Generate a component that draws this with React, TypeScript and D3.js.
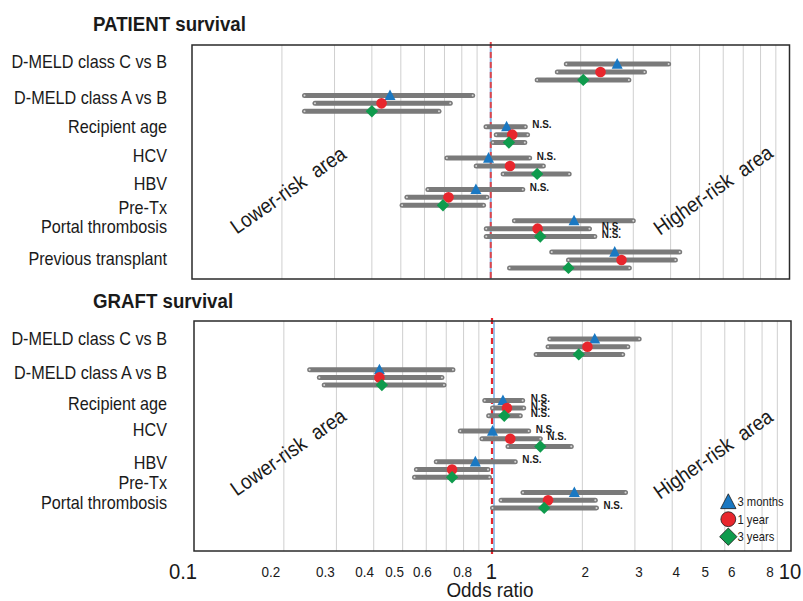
import React from "react";
import * as d3 from "d3";

// ---------- DATA ----------
const patientCategories = [
  "D-MELD class C vs B",
  "D-MELD class A vs B",
  "Recipient age",
  "HCV",
  "HBV",
  "Pre-Tx|Portal thrombosis",
  "Previous transplant",
];
// [odds ratio, lower CI, upper CI]
const patient3m = [
  [2.65, 1.79, 3.94],
  [0.46, 0.238, 0.87],
  [1.13, 0.964, 1.305],
  [0.983, 0.713, 1.35],
  [0.892, 0.616, 1.28],
  [1.9, 1.2, 3.0],
  [2.6, 1.6, 4.29],
];
const patient1y = [
  [2.33, 1.67, 3.27],
  [0.431, 0.258, 0.732],
  [1.18, 1.043, 1.328],
  [1.16, 0.894, 1.5],
  [0.722, 0.524, 0.971],
  [1.435, 0.966, 2.14],
  [2.74, 1.82, 4.15],
];
const patient3y = [
  [2.04, 1.43, 2.9],
  [0.4, 0.238, 0.671],
  [1.15, 1.017, 1.3],
  [1.43, 1.1, 1.83],
  [0.692, 0.505, 0.946],
  [1.465, 0.966, 2.23],
  [1.82, 1.156, 2.91],
];
const patientNS3m = [false, false, true, true, true, false, false];
const patientNS1y = [false, false, false, false, false, true, false];
const patientNS3y = [false, false, false, false, false, true, false];

const graftCategories = [
  "D-MELD class C vs B",
  "D-MELD class A vs B",
  "Recipient age",
  "HCV",
  "HBV",
  "Pre-Tx|Portal thrombosis",
];
const graft3m = [
  [2.2, 1.555, 3.1],
  [0.418, 0.244, 0.737],
  [1.084, 0.942, 1.262],
  [1.0, 0.78, 1.322],
  [0.876, 0.648, 1.192],
  [1.88, 1.265, 2.79],
];
const graft1y = [
  [2.08, 1.535, 2.84],
  [0.418, 0.263, 0.677],
  [1.118, 1.0, 1.272],
  [1.147, 0.922, 1.446],
  [0.732, 0.556, 0.966],
  [1.535, 1.068, 2.21],
];
const graft3y = [
  [1.945, 1.4, 2.73],
  [0.426, 0.273, 0.688],
  [1.095, 0.971, 1.239],
  [1.446, 1.127, 1.836],
  [0.732, 0.548, 0.976],
  [1.49, 1.0, 2.23],
];
const graftNS3m = [false, false, true, true, true, false];
const graftNS1y = [false, false, true, true, false, false];
const graftNS3y = [false, false, true, false, false, true];

const seriesNames = ["3 months", "1 year", "3 years"];
const minorTicks = [0.2, 0.3, 0.4, 0.5, 0.6, 0.7, 0.8, 0.9, 2, 3, 4, 5, 6, 7, 8, 9];
const tickLabelsSmall = ["0.2", "0.3", "0.4", "0.5", "0.6", "0.8", "2", "3", "4", "5", "6", "8"];
const tickLabelsLarge = ["0.1", "1", "10"];

// ---------- STYLE ----------
const FONT = "'Liberation Sans', Arial, Helvetica, sans-serif";
const COLORS = ["#1a78c2", "#e8262d", "#0f9b4d"];
const BAR = "#7a7a7a";
const GRID = "#cfcfcf";
const SX = 0.9; // horizontal condensing of the Helvetica-narrow look
// small nudges of the tick labels, as in the original artwork
const smallLabelNudge: Record<string, number> = {
  "0.2": -13, "0.3": -11, "0.4": -9, "0.5": -8, "0.6": -4, "0.8": -1,
  "2": 3, "3": 4, "4": 4, "5": 4, "6": 7, "8": 8,
};
const patientLabelNudge = [-10.3, -6.3, -7.7, -11, -14.3, -1.7, -2];
const graftLabelNudge = [-8.7, -5.4, -5, -9, -7.5, 1.8];

type Panel = {
  cats: string[];
  series: number[][][];
  ns: boolean[][];
  box: { x0: number; x1: number; y0: number; y1: number };
  yRange: [number, number];
  off: number;
  labelNudge: number[];
  title: string;
  titleY: number;
  lowerY: number;
  higherY: number;
  mode: "top" | "bottom";
};

function Marker({ kind, x, y, legend }: { kind: number; x: number; y: number; legend?: boolean }) {
  const s = legend ? 1.4 : 1;
  const stroke = legend ? "#1a1a1a" : "none";
  if (kind === 0) {
    const w = 11 * s, top = -6 * s, bot = 4.6 * s;
    return (
      <path
        d={`M${x},${y + top}L${x + w / 2},${y + bot}L${x - w / 2},${y + bot}Z`}
        fill={COLORS[0]} stroke={stroke} strokeWidth={0.8}
      />
    );
  }
  if (kind === 1) {
    return <circle cx={x} cy={y} r={5.3 * s} fill={COLORS[1]} stroke={stroke} strokeWidth={0.8} />;
  }
  const h = 6.2 * s;
  return (
    <path
      d={`M${x},${y - h}L${x + h},${y}L${x},${y + h}L${x - h},${y}Z`}
      fill={COLORS[2]} stroke={stroke} strokeWidth={0.8}
    />
  );
}

function PanelView({ p }: { p: Panel }) {
  const x = d3.scaleLog().domain([0.1, 10]).range([p.box.x0, p.box.x1]);
  const y = d3.scalePoint<string>().domain(p.cats).range(p.yRange);
  const x1 = x(1);

  // N.S. label x: aligned within a category when the CI ends are close
  const nsX = (si: number, ci: number) => {
    const own = x(p.series[si][ci][2]);
    const others = p.series
      .map((ser, k) => (p.ns[k][ci] ? x(ser[ci][2]) : null))
      .filter((v) => v !== null) as number[];
    const close = others.filter((v) => Math.abs(v - own) < 8);
    return Math.max(own, ...close) + 7;
  };

  return (
    <g>
      <text
        transform={`translate(93,${p.titleY}) scale(0.89,1)`}
        fontFamily={FONT} fontWeight="bold" fontSize={21} fill="#1a1a1a"
      >
        {p.title}
      </text>
      {/* grid */}
      {minorTicks.map((t) => (
        <line key={t} x1={x(t)} x2={x(t)} y1={p.box.y0} y2={p.box.y1} stroke={GRID} strokeWidth={1} />
      ))}
      {/* reference line */}
      {p.mode === "top" ? (
        <g>
          <line x1={x1} x2={x1} y1={p.box.y0} y2={p.box.y1} stroke="#7fb0e0" strokeWidth={2} />
          <line x1={x1} x2={x1} y1={p.box.y0 - 3} y2={p.box.y1} stroke="#e0454a" strokeWidth={2} strokeDasharray="6 4" />
        </g>
      ) : (
        <g>
          <line x1={x1 + 1.5} x2={x1 + 1.5} y1={p.box.y0} y2={p.box.y1} stroke="#5a9ee0" strokeWidth={1.2} />
          <line x1={x1 - 0.5} x2={x1 - 0.5} y1={p.box.y0 - 3} y2={p.box.y1 + 5} stroke="#e8262d" strokeWidth={2.2} strokeDasharray="6 4" />
        </g>
      )}
      {/* risk-area texts */}
      <text
        transform={`translate(288,${p.lowerY}) rotate(-35) scale(${SX},1)`}
        textAnchor="middle" dominantBaseline="central" fontFamily={FONT} fontSize={21} fill="#1a1a1a"
        style={{ whiteSpace: "pre" }}
      >
        {"Lower-risk  area"}
      </text>
      <text
        transform={`translate(713,${p.higherY}) rotate(-35) scale(${SX},1)`}
        textAnchor="middle" dominantBaseline="central" fontFamily={FONT} fontSize={21} fill="#1a1a1a"
        style={{ whiteSpace: "pre" }}
      >
        {"Higher-risk  area"}
      </text>
      {/* bars */}
      {p.series.map((ser, si) =>
        ser.map((v, ci) => {
          const yy = (y(p.cats[ci]) as number) + (si - 1) * p.off;
          const xl = x(v[1]), xh = x(v[2]);
          return (
            <g key={`b${si}-${ci}`}>
              <line x1={xl} x2={xh} y1={yy} y2={yy} stroke={BAR} strokeWidth={5} strokeLinecap="round" />
              <circle cx={xl} cy={yy} r={1} fill="#d8d8d8" />
              <circle cx={xh} cy={yy} r={1} fill="#d8d8d8" />
            </g>
          );
        })
      )}
      {/* markers */}
      {p.series.map((ser, si) =>
        ser.map((v, ci) => {
          const yy = (y(p.cats[ci]) as number) + (si - 1) * p.off;
          return <Marker key={`m${si}-${ci}`} kind={si} x={x(v[0])} y={yy} />;
        })
      )}
      {/* N.S. labels */}
      {p.series.map((ser, si) =>
        ser.map((v, ci) => {
          if (!p.ns[si][ci]) return null;
          const yy = (y(p.cats[ci]) as number) + (si - 1) * p.off;
          return (
            <text
              key={`n${si}-${ci}`}
              transform={`translate(${nsX(si, ci)},${yy + 1.5}) scale(${SX},1)`}
              fontFamily={FONT} fontWeight="bold" fontSize={11} fill="#1a1a1a"
            >
              N.S.
            </text>
          );
        })
      )}
      {/* box */}
      <rect
        x={p.box.x0} y={p.box.y0} width={p.box.x1 - p.box.x0} height={p.box.y1 - p.box.y0}
        fill="none" stroke="#2a2a2a" strokeWidth={1.5}
      />
      {/* category labels */}
      {p.cats.map((c, ci) => {
        const yc = (y(c) as number) + p.labelNudge[ci];
        const lines = c.split("|");
        return lines.map((ln, li) => (
          <text
            key={`l${ci}-${li}`}
            transform={`translate(167,${yc + 6.5 - (lines.length - 1 - li) * 19.5}) scale(${SX},1)`}
            textAnchor="end" fontFamily={FONT} fontSize={18} fill="#1a1a1a"
          >
            {ln}
          </text>
        ));
      })}
    </g>
  );
}

export default function App() {
  const top: Panel = {
    cats: patientCategories,
    series: [patient3m, patient1y, patient3y],
    ns: [patientNS3m, patientNS1y, patientNS3y],
    box: { x0: 192, x1: 789.5, y0: 45, y1: 279 },
    yRange: [72, 260],
    off: 7.9,
    labelNudge: patientLabelNudge,
    title: "PATIENT survival",
    titleY: 30.5,
    lowerY: 190,
    higherY: 190,
    mode: "top",
  };
  const bottom: Panel = {
    cats: graftCategories,
    series: [graft3m, graft1y, graft3y],
    ns: [graftNS3m, graftNS1y, graftNS3y],
    box: { x0: 194, x1: 791, y0: 321, y1: 551 },
    yRange: [346.7, 500.2],
    off: 7.7,
    labelNudge: graftLabelNudge,
    title: "GRAFT survival",
    titleY: 307.5,
    lowerY: 452,
    higherY: 454,
    mode: "bottom",
  };
  const xAxis = d3.scaleLog().domain([0.1, 10]).range([bottom.box.x0, bottom.box.x1]);

  return (
    <svg width={803} height={601} style={{ position: "absolute", left: 0, top: 0, background: "#fff" }}>
      <rect x={0} y={0} width={803} height={601} fill="#fff" />
      <PanelView p={top} />
      <PanelView p={bottom} />
      {/* x tick labels */}
      {tickLabelsSmall.map((t) => (
        <text
          key={t}
          transform={`translate(${xAxis(+t) + (smallLabelNudge[t] || 0)},577) scale(${SX},1)`}
          textAnchor="middle" fontFamily={FONT} fontSize={15} fill="#1a1a1a"
        >
          {t}
        </text>
      ))}
      {tickLabelsLarge.map((t, i) => (
        <text
          key={t}
          transform={`translate(${xAxis(+t) + (i === 0 ? -11 : -1)},578.5) scale(${SX},1)`}
          textAnchor="middle" fontFamily={FONT} fontSize={22.5} fill="#1a1a1a"
        >
          {t}
        </text>
      ))}
      <text
        transform={`translate(490,597) scale(${SX},1)`}
        textAnchor="middle" fontFamily={FONT} fontSize={21} fill="#1a1a1a"
      >
        Odds ratio
      </text>
      {/* legend */}
      {seriesNames.map((s, i) => {
        const ly = 501.7 + i * 17.5;
        return (
          <g key={s}>
            <Marker kind={i} x={728.3} y={ly + (i === 0 ? 0.5 : 0)} legend />
            <text
              transform={`translate(737.5,${ly + 4.5}) scale(${SX},1)`}
              fontFamily={FONT} fontSize={12.5} fill="#1a1a1a"
            >
              {s}
            </text>
          </g>
        );
      })}
    </svg>
  );
}
